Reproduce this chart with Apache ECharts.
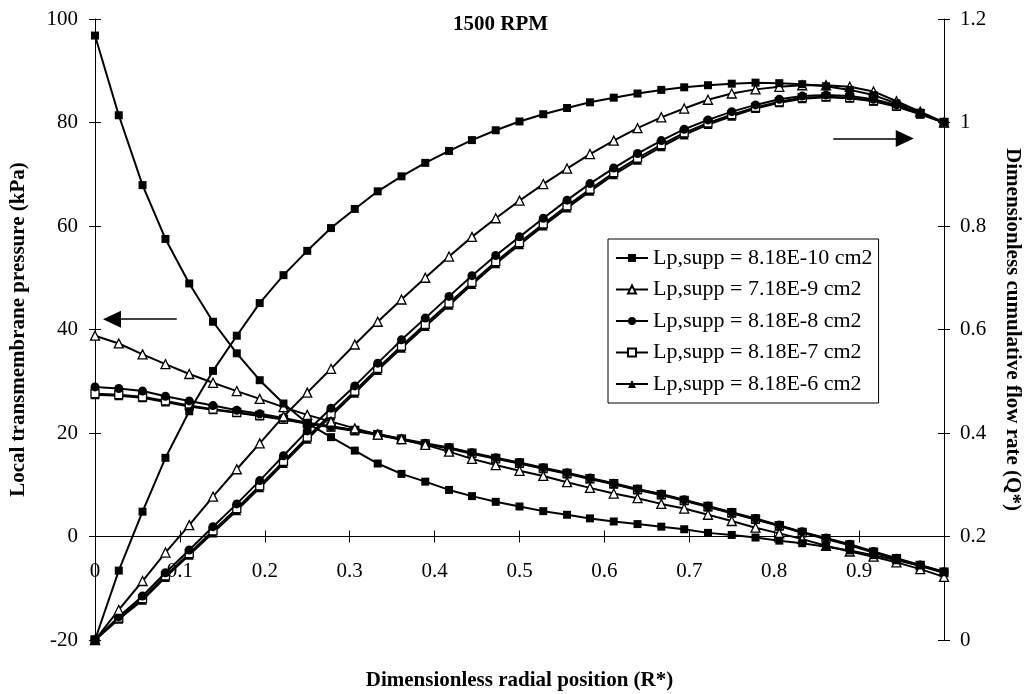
<!DOCTYPE html>
<html><head><meta charset="utf-8">
<script src="https://cdn.jsdelivr.net/npm/echarts@6/dist/echarts.min.js"></script>
<style>html,body{margin:0;padding:0;background:#fff}#c{width:1025px;height:694px}</style>
</head><body><div id="c"></div><script>
// Dimensionless radial position R*
const R = [0, 0.028, 0.056, 0.083, 0.111, 0.139, 0.167, 0.194, 0.222, 0.25, 0.278, 0.306, 0.333, 0.361, 0.389, 0.417, 0.444, 0.472, 0.5, 0.528, 0.556, 0.583, 0.611, 0.639, 0.667, 0.694, 0.722, 0.75, 0.778, 0.806, 0.833, 0.861, 0.889, 0.917, 0.944, 0.972, 1];
const seriesNames = ['Lp,supp = 8.18E-10 cm2', 'Lp,supp = 7.18E-9 cm2', 'Lp,supp = 8.18E-8 cm2', 'Lp,supp = 8.18E-7 cm2', 'Lp,supp = 8.18E-6 cm2'];
// Local transmembrane pressure (kPa), left axis
const P1 = [96.8, 81.4, 67.9, 57.5, 48.9, 41.5, 35.4, 30.2, 25.7, 21.9, 19.2, 16.6, 14.1, 12.1, 10.6, 9.0, 7.8, 6.7, 5.8, 4.9, 4.2, 3.5, 2.9, 2.4, 1.9, 1.4, 0.7, 0.3, -0.2, -0.8, -1.3, -2.0, -2.7, -3.6, -4.6, -5.6, -6.9];
const P2 = [38.8, 37.3, 35.2, 33.3, 31.4, 29.7, 28.1, 26.6, 25.0, 23.5, 22.2, 20.9, 19.7, 18.8, 17.7, 16.4, 15.0, 13.8, 12.7, 11.7, 10.5, 9.4, 8.3, 7.4, 6.3, 5.4, 4.2, 3.0, 1.7, 0.6, -0.5, -1.8, -2.9, -3.9, -5.0, -6.3, -7.8];
const P3 = [28.9, 28.6, 28.1, 27.1, 26.2, 25.3, 24.4, 23.7, 22.9, 22.0, 21.3, 20.6, 19.8, 18.9, 18.0, 17.2, 16.2, 15.2, 14.3, 13.3, 12.3, 11.3, 10.3, 9.2, 8.2, 7.1, 5.9, 4.7, 3.5, 2.2, 0.9, -0.3, -1.5, -2.9, -4.2, -5.5, -6.8];
const P4 = [27.6, 27.4, 27.0, 26.2, 25.3, 24.6, 24.0, 23.4, 22.7, 21.9, 21.2, 20.5, 19.7, 18.8, 17.9, 17.1, 16.1, 15.1, 14.2, 13.2, 12.2, 11.2, 10.2, 9.1, 8.1, 7.0, 5.8, 4.6, 3.4, 2.1, 0.8, -0.4, -1.6, -3.0, -4.3, -5.6, -6.9];
const P5 = [27.4, 27.2, 26.8, 26.0, 25.1, 24.5, 23.9, 23.3, 22.6, 21.8, 21.1, 20.4, 19.6, 18.7, 17.8, 17.0, 16.0, 15.0, 14.1, 13.1, 12.1, 11.1, 10.1, 9.0, 8.0, 6.9, 5.7, 4.5, 3.3, 2.0, 0.7, -0.5, -1.7, -3.1, -4.4, -5.7, -7.0];
// Dimensionless cumulative flow rate Q*, right axis
const Q1 = [0, 0.134, 0.248, 0.352, 0.442, 0.520, 0.588, 0.651, 0.705, 0.752, 0.796, 0.833, 0.867, 0.896, 0.922, 0.945, 0.966, 0.985, 1.002, 1.016, 1.028, 1.039, 1.048, 1.056, 1.063, 1.068, 1.072, 1.075, 1.077, 1.076, 1.074, 1.070, 1.063, 1.053, 1.037, 1.019, 1.0];
const Q2 = [0, 0.058, 0.114, 0.169, 0.222, 0.277, 0.330, 0.380, 0.432, 0.478, 0.524, 0.571, 0.615, 0.658, 0.700, 0.741, 0.779, 0.815, 0.849, 0.881, 0.911, 0.939, 0.965, 0.989, 1.010, 1.027, 1.044, 1.056, 1.064, 1.069, 1.072, 1.072, 1.069, 1.060, 1.041, 1.021, 1.0];
const Q3 = [0, 0.045, 0.085, 0.130, 0.174, 0.219, 0.263, 0.308, 0.356, 0.404, 0.448, 0.491, 0.535, 0.580, 0.622, 0.664, 0.704, 0.743, 0.779, 0.815, 0.850, 0.882, 0.912, 0.940, 0.965, 0.987, 1.005, 1.021, 1.034, 1.045, 1.051, 1.053, 1.051, 1.045, 1.034, 1.018, 1.0];
const Q4 = [0, 0.042, 0.080, 0.124, 0.167, 0.211, 0.254, 0.298, 0.345, 0.392, 0.437, 0.481, 0.525, 0.568, 0.610, 0.651, 0.691, 0.731, 0.768, 0.804, 0.839, 0.871, 0.903, 0.931, 0.957, 0.980, 0.999, 1.015, 1.029, 1.040, 1.048, 1.050, 1.048, 1.042, 1.032, 1.017, 1.0];
const Q5 = [0, 0.040, 0.077, 0.121, 0.164, 0.207, 0.250, 0.294, 0.341, 0.388, 0.433, 0.477, 0.521, 0.564, 0.606, 0.647, 0.687, 0.727, 0.764, 0.800, 0.835, 0.867, 0.899, 0.927, 0.953, 0.976, 0.996, 1.012, 1.027, 1.038, 1.046, 1.049, 1.047, 1.041, 1.031, 1.016, 1.0];
// Axis ranges / ticks
const xTicks = {min: 0, max: 1, interval: 0.1};
const pTicks = {min: -20, max: 100, interval: 20};
const qTicks = {min: 0, max: 1.2, interval: 0.2};
// Annotation arrows: [fromX, toX, y]
const pressureArrow = [0.0963, 0.0200, 42.0];
const flowArrow = [0.8696, 0.9538, 0.969];

const P = [P1, P2, P3, P4, P5];
const Q = [Q1, Q2, Q3, Q4, Q5];
const FONT = 'Liberation Serif';
const GRID = {left: 95, right: 81, top: 19, bottom: 54};
const plotH = 694 - GRID.top - GRID.bottom;
// x axis crosses the left axis at pressure = 0
const xAxisOffset = -plotH * (0 - pTicks.min) / (pTicks.max - pTicks.min);
const symbols = ['rect', 'triangle', 'circle', 'rect', 'triangle'];
const sizes = [8, 9, 9, 8, 9];
const filled = [true, false, true, false, true];

function itemStyle(k) {
  return filled[k] ? {color: '#000', borderColor: '#000', borderWidth: 0}
                   : {color: '#fff', borderColor: '#000', borderWidth: 1.3};
}
const series = [];
for (let k = 0; k < 5; k++) {
  const base = {
    type: 'line', name: seriesNames[k], symbol: symbols[k], symbolSize: sizes[k],
    showAllSymbol: true, itemStyle: itemStyle(k), lineStyle: {color: '#000', width: 2},
    emphasis: {disabled: true}, z: 10 - k
  };
  series.push(Object.assign({}, base, {yAxisIndex: 0, data: R.map((x, i) => [x, P[k][i]])}));
  series.push(Object.assign({}, base, {yAxisIndex: 1, data: R.map((x, i) => [x, Q[k][i]])}));
}
const arrowStyle = {
  silent: true, symbol: ['none', 'triangle'], symbolSize: [17, 18],
  label: {show: false}, lineStyle: {color: '#000', width: 1.5, type: 'solid'},
  itemStyle: {color: '#000'}, emphasis: {disabled: true}
};
series[0].markLine = Object.assign({}, arrowStyle, {
  data: [[{coord: [pressureArrow[0], pressureArrow[2]]}, {coord: [pressureArrow[1], pressureArrow[2]]}]]
});
series[1].markLine = Object.assign({}, arrowStyle, {
  data: [[{coord: [flowArrow[0], flowArrow[2]]}, {coord: [flowArrow[1], flowArrow[2]]}]]
});

const lbl = {fontFamily: FONT, fontSize: 21, color: '#000'};
const nameStyle = {fontFamily: FONT, fontSize: 21, fontWeight: 'bold', color: '#000'};
const blackLine = {color: '#000', width: 1};

const chart = echarts.init(document.getElementById('c'));
chart.setOption({
  animation: false,
  backgroundColor: '#fff',
  title: {text: '1500 RPM', left: 448, top: 9,
    textStyle: {fontFamily: FONT, fontSize: 21, fontWeight: 'bold', color: '#000'}},
  grid: Object.assign({containLabel: false, outerBoundsMode: 'none'}, GRID),
  legend: {
    orient: 'vertical', left: 608, top: 239, data: seriesNames,
    borderColor: '#000', borderWidth: 1, backgroundColor: '#fff',
    padding: [8, 6, 8, 7], itemGap: 9.5, itemWidth: 32, itemHeight: 10, itemTextGap: 5,
    textStyle: {fontFamily: FONT, fontSize: 22, color: '#000'}, selectedMode: false
  },
  xAxis: [
    Object.assign({type: 'value', position: 'bottom', offset: xAxisOffset,
      axisLine: {show: true, onZero: false, lineStyle: blackLine},
      axisTick: {show: true, length: 6, lineStyle: blackLine},
      axisLabel: Object.assign({margin: 24, showMaxLabel: false}, lbl),
      splitLine: {show: false},
      name: 'Dimensionless radial position (R*)', nameLocation: 'middle', nameGap: 134,
      nameTextStyle: nameStyle}, xTicks),
    Object.assign({type: 'value', position: 'bottom', offset: xAxisOffset,
      axisLine: {show: false, onZero: false},
      axisTick: {show: true, inside: true, length: 6, lineStyle: blackLine},
      axisLabel: {show: false}, splitLine: {show: false}}, xTicks)
  ],
  yAxis: [
    Object.assign({type: 'value', position: 'left',
      axisLine: {show: true, onZero: false, lineStyle: blackLine},
      axisTick: {show: true, length: 6, lineStyle: blackLine},
      axisLabel: Object.assign({margin: 17}, lbl), splitLine: {show: false},
      name: 'Local transmembrane pressure (kPa)', nameLocation: 'middle', nameGap: 66,
      nameRotate: 90, nameTextStyle: nameStyle}, pTicks),
    Object.assign({type: 'value', position: 'right',
      axisLine: {show: true, onZero: false, lineStyle: blackLine},
      axisTick: {show: true, length: 6, lineStyle: blackLine},
      axisLabel: Object.assign({margin: 16}, lbl), splitLine: {show: false},
      name: 'Dimensionless cumulative flow rate (Q*)', nameLocation: 'middle', nameGap: 58,
      nameRotate: -90, nameTextStyle: nameStyle}, qTicks),
    Object.assign({type: 'value', position: 'left',
      axisLine: {show: false, onZero: false},
      axisTick: {show: true, inside: true, length: 6, lineStyle: blackLine},
      axisLabel: {show: false}, splitLine: {show: false}}, pTicks),
    Object.assign({type: 'value', position: 'right',
      axisLine: {show: false, onZero: false},
      axisTick: {show: true, inside: true, length: 6, lineStyle: blackLine},
      axisLabel: {show: false}, splitLine: {show: false}}, qTicks)
  ],
  series: series
});
</script></body></html>
